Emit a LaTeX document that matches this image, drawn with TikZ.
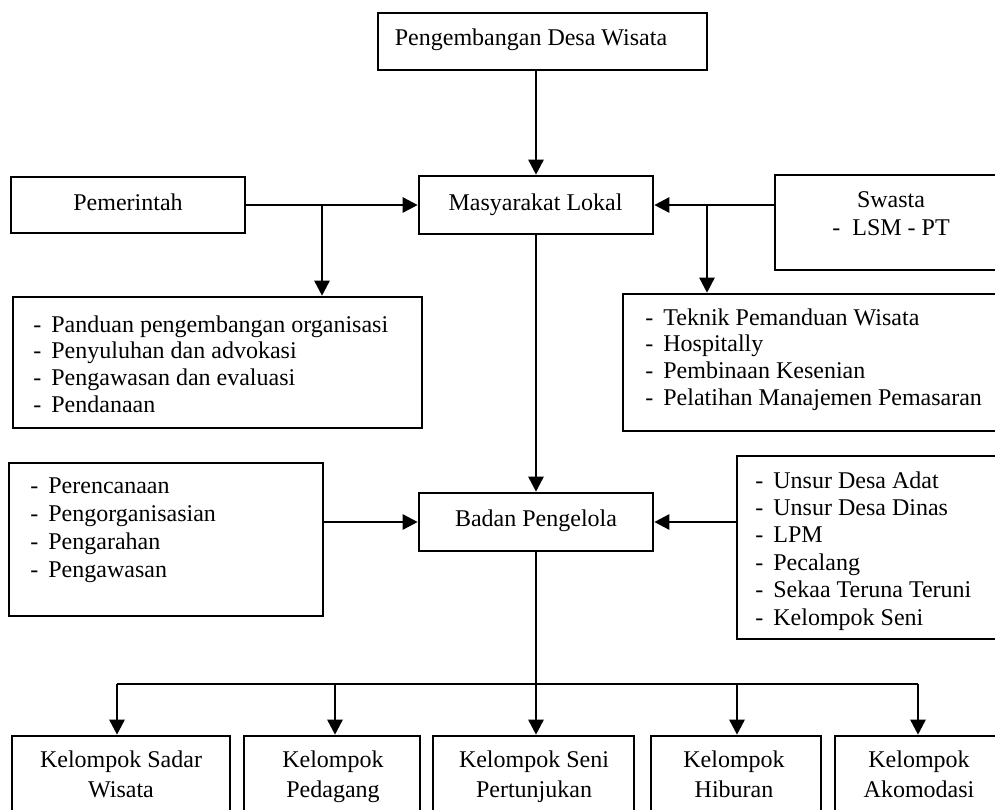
\documentclass[tikz,border=0pt]{standalone}
\usepackage{fontspec}
\setmainfont{Liberation Serif}
\usetikzlibrary{arrows.meta,fit}
\newcommand{\dl}{\makebox[9pt][l]{-}}
\tikzset{
  box/.style={draw, line width=1.3pt, inner sep=0pt},
  txt/.style={inner sep=0pt, anchor=base},
  ltxt/.style={inner sep=0pt, anchor=base west},
  conn/.style={line width=1.3pt, -{Triangle[length=7.5pt,width=7.5pt]}},
  plain/.style={line width=1.3pt}
}
\begin{document}
\begin{tikzpicture}[x=0.5pt,y=-0.5pt,font=\fontsize{12}{13.35}\selectfont]
\useasboundingbox (0,0) rectangle (995,809);
\clip (0,0) rectangle (995,809);

% boxes
\node[box, fit={(378,13) (707,70)}] (top) {};
\node[box, fit={(419,176) (653,234)}] (mas) {};
\node[box, fit={(11,177) (245,233)}] (pem) {};
\node[box, fit={(775,175) (1007,270)}] (swa) {};
\node[box, fit={(13,297) (422,428)}] (pl) {};
\node[box, fit={(623,294) (1010,431)}] (sl) {};
\node[box, fit={(419,493) (653,551)}] (bad) {};
\node[box, fit={(9,463) (323,616)}] (fl) {};
\node[box, fit={(737,456) (1010,639)}] (ul) {};
\node[box, fit={(12,736) (230,830)}] (k1) {};
\node[box, fit={(244,736) (420,830)}] (k2) {};
\node[box, fit={(433,736) (634,830)}] (k3) {};
\node[box, fit={(651,736) (821,830)}] (k4) {};
\node[box, fit={(835,736) (1003,830)}] (k5) {};

% texts
\node[txt] (topt) at (531,45) {Pengembangan Desa Wisata};
\node[txt] (mast) at (535.5,210) {Masyarakat Lokal};
\node[txt] (pemt) at (128,210) {Pemerintah};
\node[txt] (swat) at (891,207) {\fontsize{12}{14}\selectfont\begin{tabular}[t]{@{}c@{}}Swasta\\-\ \ LSM - PT\end{tabular}};
\node[txt] (badt) at (536,526) {Badan Pengelola};
\node[ltxt] (plt) at (33,332) {\begin{tabular}[t]{@{}l@{}}\dl Panduan pengembangan organisasi\\\dl Penyuluhan dan advokasi\\\dl Pengawasan dan evaluasi\\\dl Pendanaan\end{tabular}};
\node[ltxt] (slt) at (645,325) {\begin{tabular}[t]{@{}l@{}}\dl Teknik Pemanduan Wisata\\\dl Hospitally\\\dl Pembinaan Kesenian\\\dl Pelatihan Manajemen Pemasaran\end{tabular}};
\node[ltxt] (flt) at (30,493) {\fontsize{12}{14.1}\selectfont\begin{tabular}[t]{@{}l@{}}\dl Perencanaan\\\dl Pengorganisasian\\\dl Pengarahan\\\dl Pengawasan\end{tabular}};
\node[ltxt] (ult) at (755,488) {\fontsize{12}{13.7}\selectfont\begin{tabular}[t]{@{}l@{}}\dl Unsur Desa Adat\\\dl Unsur Desa Dinas\\\dl LPM\\\dl Pecalang\\\dl Sekaa Teruna Teruni\\\dl Kelompok Seni\end{tabular}};
\node[txt] (k1t) at (121,767) {\fontsize{12}{15}\selectfont\begin{tabular}[t]{@{}c@{}}Kelompok Sadar\\Wisata\end{tabular}};
\node[txt] (k2t) at (333,767) {\fontsize{12}{15}\selectfont\begin{tabular}[t]{@{}c@{}}Kelompok\\Pedagang\end{tabular}};
\node[txt] (k3t) at (534,767) {\fontsize{12}{15}\selectfont\begin{tabular}[t]{@{}c@{}}Kelompok Seni\\Pertunjukan\end{tabular}};
\node[txt] (k4t) at (734,767) {\fontsize{12}{15}\selectfont\begin{tabular}[t]{@{}c@{}}Kelompok\\Hiburan\end{tabular}};
\node[txt] (k5t) at (919,767) {\fontsize{12}{15}\selectfont\begin{tabular}[t]{@{}c@{}}Kelompok\\Akomodasi\end{tabular}};

% junction coordinates
\coordinate (pemj) at (322,205);
\coordinate (swaj) at (707,205);
\coordinate (d1) at (117,684);
\coordinate (d2) at (335,684);
\coordinate (d3) at (536,684);
\coordinate (d4) at (737,684);
\coordinate (d5) at (918,684);

% connectors
\draw[conn] (mas.north |- top.south) -- (mas.north);
\draw[conn] (pem.east) -- (mas.west);
\draw[conn] (pemj) -- (pemj |- pl.north);
\draw[conn] (mas.east -| swa.west) -- (mas.east);
\draw[conn] (swaj) -- (swaj |- sl.north);
\draw[conn] (mas.south) -- (bad.north);
\draw[conn] (bad.west -| fl.east) -- (bad.west);
\draw[conn] (bad.east -| ul.west) -- (bad.east);
\draw[plain] (bad.south) -- (bad.south |- d3);
\draw[plain] (d1) -- (d5);
\draw[conn] (d1) -- (d1 |- k1.north);
\draw[conn] (d2) -- (d2 |- k2.north);
\draw[conn] (d3) -- (d3 |- k3.north);
\draw[conn] (d4) -- (d4 |- k4.north);
\draw[conn] (d5) -- (d5 |- k5.north);
\end{tikzpicture}
\end{document}
